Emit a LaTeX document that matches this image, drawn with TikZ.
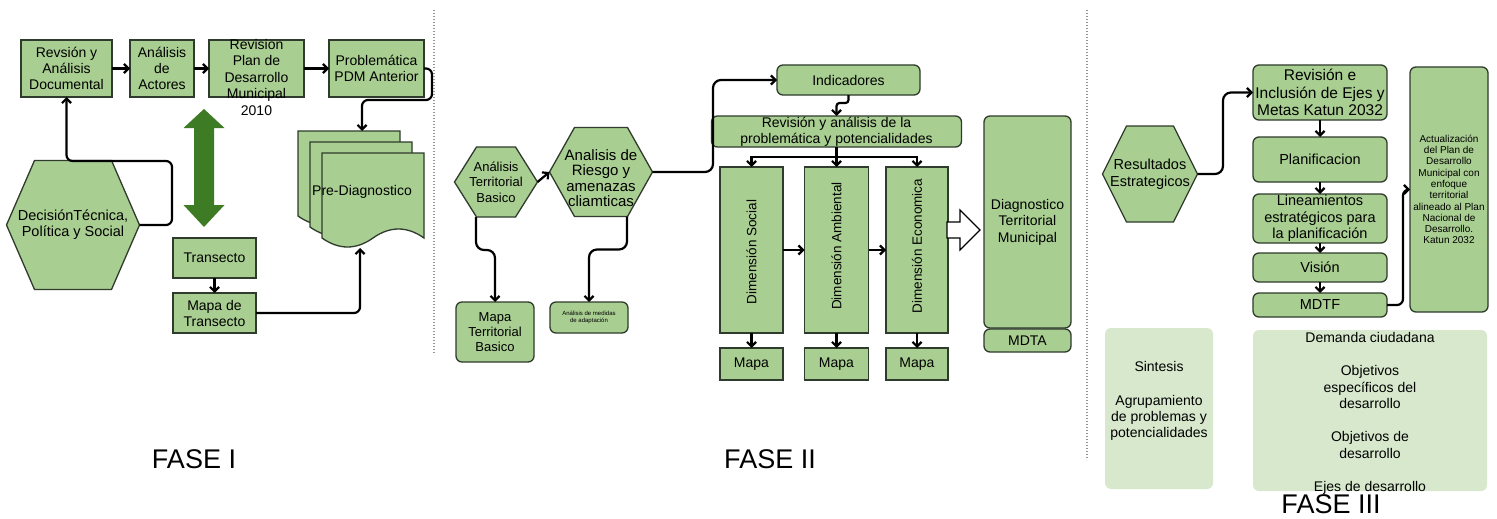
\documentclass[tikz,border=0pt]{standalone}
\usepackage{fontspec}
\setmainfont{Liberation Sans}
\usetikzlibrary{arrows.meta,calc}
\definecolor{gfill}{HTML}{A9CE91}
\definecolor{lfill}{HTML}{D7E8CD}
\definecolor{gdraw}{HTML}{2F3B2C}
\definecolor{darkg}{HTML}{3D7B24}
\newcommand\myfs[2]{\fontsize{#1}{#2}\selectfont}
\newcommand\myhex[5]{\path[hexsty] ({#1-#3/2},#2) -- ({#1-#3/2+#5},{#2-#4/2}) -- ({#1+#3/2-#5},{#2-#4/2}) -- ({#1+#3/2},#2) -- ({#1+#3/2-#5},{#2+#4/2}) -- ({#1-#3/2+#5},{#2+#4/2}) -- cycle;}
\newcommand\mydoc[5]{\path[hexsty] (#1,#2) -- (#3,#2) -- (#3,#4) .. controls ({#3-(#3-#1)/6},{#4-4*#5/3}) and ({#3-(#3-#1)/3},{#4-4*#5/3}) .. ({(#1+#3)/2},#4) .. controls ({(#1+#3)/2-(#3-#1)/6},{#4+4*#5/3}) and ({(#1+#3)/2-(#3-#1)/3},{#4+4*#5/3}) .. (#1,#4) -- cycle;}
\tikzset{
  hexsty/.style={draw=gdraw, line width=1.3pt, fill=gfill},
  box/.style={draw=gdraw, line width=1.3pt, fill=gfill, inner sep=0pt, outer sep=0pt, align=center, font=\myfs{14}{16}},
  rbox/.style={box, rounded corners=6pt},
  lbox/.style={fill=lfill, draw=none, rounded corners=6pt, inner sep=0pt, outer sep=0pt},
  hexn/.style={draw=none, inner sep=0pt, outer sep=0pt, align=center, font=\myfs{14}{16}},
  txt/.style={inner sep=0pt, align=center, font=\myfs{14}{16}},
  conn/.style={draw=black, line width=2.2pt, rounded corners=6pt, -{Straight Barb[length=4.5pt,width=9pt]}},
  divider/.style={draw=gray!85, line width=1.3pt, dash pattern=on 1.3pt off 1.7pt},
  fase/.style={inner sep=0pt, font=\myfs{27}{30}}
}
\begin{document}
\begin{tikzpicture}[x=1pt,y=-1pt]
\useasboundingbox (0,0) rectangle (1497,519);
\fill[white] (0,0) rectangle (1497,519);

% ---------------- FASE I ----------------
\node[box, minimum width=91pt, minimum height=57pt] (rad) at (66.5,68.5) {Revsión y\\Análisis\\Documental};
\node[box, minimum width=64pt, minimum height=57pt] (act) at (162,68.5) {Análisis\\de\\Actores};
\node[box, minimum width=95pt, minimum height=57pt] (rpd) at (256.5,68.5) {};
\node[txt, font=\myfs{14}{16.5}] (rpdt) at (256.5,77) {Revision\\Plan de\\Desarrollo\\Municipal\\2010};
\node[box, minimum width=95pt, minimum height=57pt] (prob) at (376.5,68.5) {Problemática\\PDM Anterior};
\draw[conn] (rad.east) -- (act.west);
\draw[conn] (act.east) -- (rpd.west);
\draw[conn] (rpd.east) -- (prob.west);

\myhex{73}{225}{133}{129}{28}
\node[hexn, minimum width=133pt, minimum height=129pt, font=\myfs{14.5}{16}] (dec) at (73,225) {DecisiónTécnica,\\Política y Social};
\draw[conn] (dec.east) -- (172,225) -- (172,161) -- (66.5,161) -- (rad.south);

\path[fill=darkg] (204,109) -- (224.5,128) -- (214,128) -- (214,205) -- (224.5,205) -- (204,227) -- (183.5,205) -- (194,205) -- (194,128) -- (183.5,128) -- cycle;

\node[box, minimum width=83pt, minimum height=40pt] (tra) at (214.5,258) {Transecto};
\node[box, minimum width=83pt, minimum height=40pt] (mtr) at (214.5,313) {Mapa de\\Transecto};
\draw[conn] (tra) -- (mtr);

\mydoc{298}{131}{400}{216}{9}
\mydoc{310}{142}{412}{227}{9}
\mydoc{322}{153}{424}{238}{9}
\node[txt] (pre) at (362,192) {Pre-Diagnostico};
\coordinate (pretop) at (362,131);
\coordinate (prebot) at (360,248);
\draw[conn] (prob.east) -- (432,68.5) -- (432,100) -- (362,100) -- (pretop);
\draw[conn] (mtr.east) -| (prebot);

\draw[divider] (434,10) -- (434,355);
\node[fase] (f1) at (194,459) {FASE I};

% ---------------- FASE II ----------------
\myhex{496}{182}{83}{70}{22}
\node[hexn, minimum width=83pt, minimum height=70pt, font=\myfs{13}{15.5}] (atb) at (496,182) {Análisis\\Territorial\\Basico};
\myhex{601}{172}{103}{89}{25}
\node[hexn, minimum width=103pt, minimum height=89pt] (arh) at (601,172) {};
\node[txt, font=\myfs{15}{15.5}] (arht) at (601,178) {Analisis de\\Riesgo y\\amenazas\\cliamticas};
\draw[conn] (atb.east) -- (arh.west);

\node[rbox, minimum width=78pt, minimum height=60pt, font=\myfs{13}{15}] (mtb) at (495,332) {Mapa\\Territorial\\Basico};
\node[rbox, minimum width=78pt, minimum height=31pt, font=\myfs{6}{7}] (amd) at (589,317.5) {Análisis de medidas\\de adaptación};
\draw[conn, rounded corners=8pt] ($(atb.south)+(-20,0)$) -- ++(0,33) -| (mtb.north);
\draw[conn, rounded corners=8pt] ($(arh.south)+(26,0)$) -- ++(0,33) -| (amd.north);

\node[rbox, minimum width=143pt, minimum height=30pt] (ind) at (848.5,80) {Indicadores};
\node[rbox, minimum width=250pt, minimum height=31pt] (rev) at (836.5,131.5) {Revisión y análisis de la\\problemática y potencialidades};
\draw[conn, rounded corners=8pt] (arh.east) -- (713,172) |- (ind.west);
\draw[conn, rounded corners=3pt] (ind.south) -- ++(0,8) -| (rev.north);

\node[box, minimum width=63pt, minimum height=166pt] (soc) at (751.5,250) {};
\node[box, minimum width=64pt, minimum height=166pt] (amb) at (836.5,250) {};
\node[box, minimum width=62pt, minimum height=166pt] (eco) at (917,250) {};
\node[txt, rotate=90, font=\myfs{13.5}{16}] (soct) at (751.5,252) {Dimensión Social};
\node[txt, rotate=90, font=\myfs{13.5}{16}] (ambt) at (836.5,246) {Dimensión Ambiental};
\node[txt, rotate=90, font=\myfs{13.5}{16}] (ecot) at (917,246) {Dimensión Economica};
\coordinate (bar) at ($(rev.south)+(0,10)$);
\draw[conn] (rev.south) -- (amb.north);
\draw[conn, rounded corners=0pt] (bar) -| (soc.north);
\draw[conn, rounded corners=0pt] (bar) -| (eco.north);
\draw[conn] (soc.east) -- (amb.west);
\draw[conn] (amb.east) -- (eco.west);

\node[box, minimum width=63pt, minimum height=32pt] (m1) at (751.5,364) {Mapa};
\node[box, minimum width=64pt, minimum height=32pt] (m2) at (836.5,364) {Mapa};
\node[box, minimum width=62pt, minimum height=32pt] (m3) at (917,364) {Mapa};
\draw[conn] (soc.south) -- (m1.north);
\draw[conn] (amb.south) -- (m2.north);
\draw[conn] (eco.south) -- (m3.north);

\path[draw=black, line width=1.1pt, fill=white] (947,222) -- (960,222) -- (960,210) -- (980,230) -- (960,250) -- (960,238) -- (947,238) -- cycle;

\node[rbox, minimum width=87pt, minimum height=212pt, font=\myfs{14}{16.5}] (dtm) at (1027.5,222) {Diagnostico\\Territorial\\Municipal};
\node[rbox, minimum width=87pt, minimum height=23pt] (mdta) at (1027.5,340.5) {MDTA};

\draw[divider] (1087,10) -- (1087,460);
\node[fase] (f2) at (770,459) {FASE II};

% ---------------- FASE III ----------------
\myhex{1150}{174}{95}{96}{24}
\node[hexn, minimum width=95pt, minimum height=96pt, font=\myfs{14.5}{17}] (res) at (1150,174) {Resultados\\Estrategicos};

\node[rbox, minimum width=134pt, minimum height=55pt, font=\myfs{15.5}{17.5}] (rei) at (1320,92.5) {Revisión e\\Inclusión de Ejes y\\Metas Katun 2032};
\node[rbox, minimum width=134pt, minimum height=45pt, font=\myfs{14.5}{16.5}] (pla) at (1320,159.5) {Planificacion};
\node[rbox, minimum width=134pt, minimum height=49pt, font=\myfs{14.5}{16.5}] (lin) at (1320,218.5) {Lineamientos\\estratégicos para\\la planificación};
\node[rbox, minimum width=134pt, minimum height=29pt, font=\myfs{14.5}{16.5}] (vis) at (1320,267.5) {Visión};
\node[rbox, minimum width=134pt, minimum height=24pt, font=\myfs{14.5}{16.5}] (mdtf) at (1320,305) {MDTF};
\node[rbox, minimum width=78pt, minimum height=245pt, font=\myfs{10}{11.3}] (actu) at (1449,189.5) {Actualización\\del Plan de\\Desarrollo\\Municipal con\\enfoque\\territorial\\alineado al Plan\\Nacional de\\Desarrollo.\\Katun 2032};

\draw[conn, rounded corners=8pt] (res.east) -- (1223,174) |- (rei.west);
\draw[conn] (rei.south) -- (pla.north);
\draw[conn] (pla.south) -- (lin.north);
\draw[conn] (lin.south) -- (vis.north);
\draw[conn] (vis.south) -- (mdtf.north);
\draw[conn] (mdtf.east) -- (1403,305) |- (actu.west);

\node[lbox, minimum width=108pt, minimum height=161pt] (sin) at (1159,408.5) {};
\node[txt] (sint) at (1159,401) {Sintesis\\[18pt]Agrupamiento\\de problemas y\\potencialidades};
\node[lbox, minimum width=234pt, minimum height=161pt] (dem) at (1370,410.5) {};
\node[txt, font=\myfs{14}{16.5}] (demt) at (1370,413.5) {Demanda ciudadana\\[16.5pt]Objetivos\\específicos del\\desarrollo\\[16.5pt]Objetivos de\\desarrollo\\[16.5pt]Ejes de desarrollo};
\node[fase] (f3) at (1331,504.5) {FASE III};
\end{tikzpicture}
\end{document}
